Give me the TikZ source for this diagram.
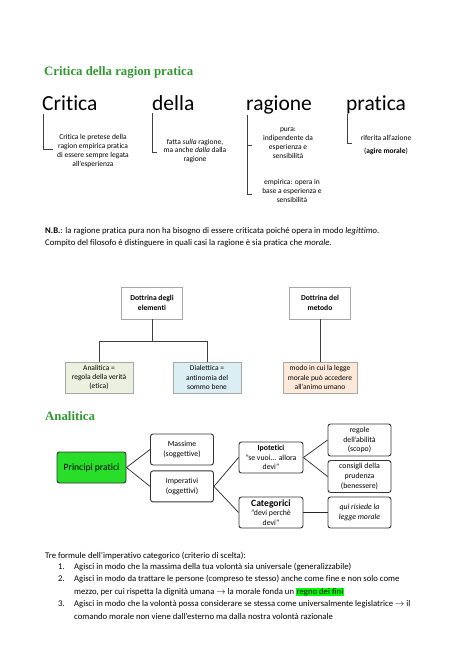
\documentclass[tikz,border=0pt]{standalone}
\usepackage{fontspec}
\setmainfont{Carlito}[Ligatures={NoCommon,NoRare}]
\newfontfamily\headfont{Liberation Serif}
\usepackage{xcolor}
\usetikzlibrary{positioning}
\definecolor{titlegreen}{HTML}{339933}
\definecolor{pratgreen}{HTML}{28DE28}
\definecolor{hlgreen}{HTML}{00FF00}
\definecolor{lightana}{HTML}{EBF1DE}
\definecolor{lightdia}{HTML}{DBEEF3}
\definecolor{lightmet}{HTML}{FDE9D9}
\definecolor{boxgray}{HTML}{A6A6A6}
\definecolor{linegray}{HTML}{404040}
\setlength{\fboxsep}{0.6pt}

\begin{document}
\begin{tikzpicture}[x=1pt, y=-1pt,
  heading/.style={anchor=base west, inner sep=0, text=titlegreen,
                  font=\headfont\bfseries\fontsize{12.8}{14}\selectfont},
  bigword/.style={anchor=base west, inner sep=0, font=\fontsize{21.5}{24}\selectfont},
  note/.style={align=center, inner sep=0, font=\fontsize{7.5}{8.9}\selectfont},
  bracket/.style={draw=linegray, line width=0.9pt},
  doc/.style={draw=boxgray, fill=white, minimum width=61pt, minimum height=32pt,
              align=center, inner sep=1pt, font=\bfseries\fontsize{7.6}{9.4}\selectfont},
  leaf/.style={doc, minimum width=68pt, minimum height=31pt, font=\fontsize{7.5}{9.4}\selectfont},
  tie/.style={draw=linegray, line width=0.8pt},
  concept/.style={draw=black!80, line width=0.9pt, rounded corners=2.5pt, fill=white,
                  minimum width=63pt, minimum height=31pt, align=center, inner sep=1pt,
                  font=\fontsize{7.8}{9.7}\selectfont},
  link/.style={draw=black!85, line width=0.7pt},
  body/.style={anchor=north west, inner sep=0, align=left, font=\fontsize{8.7}{12.6}\selectfont},
  num/.style={anchor=north east, inner sep=0, font=\fontsize{8.7}{12.6}\selectfont}
]
\useasboundingbox[fill=white] (0,0) rectangle (474,670);

% titolo
\node[heading] (titolo) at (44,75) {Critica della ragion pratica};

% le quattro parole
\node[bigword] (w1) at (42,110) {Critica};
\node[bigword] (w2) at (152,110) {della};
\node[bigword] (w3) at (246,110) {ragione};
\node[bigword] (w4) at (346,110) {pratica};

\node[note] (t1) at (93,151) {Critica le pretese della\\ragion empirica pratica\\di essere sempre legata\\all'esperienza};
\node[note] (t2) at (195,151) {fatta \textit{sulla} ragione,\\ma anche \textit{dalla} dalla\\ragione};
\node[note] (t3a) at (288,143.5) {pura:\\indipendente da\\esperienza e\\sensibilità};
\node[note] (t3b) at (292,191) {empirica: opera in\\base a esperienza e\\sensibilità};
\node[note] (t4) at (386,145) {riferita all'azione\\[3.5pt](\textbf{agire morale})};

\coordinate (b1) at (43,114);   \coordinate (b1e) at (53,149);
\coordinate (b2) at (152,113);  \coordinate (b2e) at (157,152);
\coordinate (b3) at (247,115);  \coordinate (b3e) at (252,194);
\coordinate (b3m) at (252,145);
\coordinate (b4) at (347,114);  \coordinate (b4e) at (352,143);
\draw[bracket] (b1) |- (b1e);
\draw[bracket] (b2) |- (b2e);
\draw[bracket] (b3) |- (b3e);
\draw[bracket] (b3 |- b3m) -- (b3m);
\draw[bracket] (b4) |- (b4e);

% nota
\node[body] (nb1) at (45,224) {\strut\textbf{N.B.}: la ragione pratica pura non ha bisogno di essere criticata poiché opera in modo \textit{legittimo}.\\
  Compito del filosofo è distinguere in quali casi la ragione è sia pratica che \textit{morale}.};

% dottrine
\node[doc] (de) at (152,303) {Dottrina degli\\elementi};
\node[doc] (dm) at (320,303) {Dottrina del\\metodo};
\node[leaf, fill=lightana] (ana) at (99,377.5) {Analitica =\\regola della verità\\(etica)};
\node[leaf, fill=lightdia] (dia) at (207,377.5) {Dialettica =\\antinomia del\\sommo bene};
\node[leaf, fill=lightmet, minimum width=74pt] (met) at (320,377.5) {modo in cui la legge\\morale può accedere\\all'animo umano};

\coordinate (split) at ([yshift=-22pt]de.south);
\draw[tie] (de.south) -- (split) -| (ana.north);
\draw[tie] (split) -| (dia.north);
\draw[tie] (dm.south) -- (met.north);

% analitica
\node[heading] (anahead) at (45,420) {Analitica};

\node[concept, fill=pratgreen, minimum width=69pt, font=\fontsize{9.6}{11}\selectfont] (pp) at (91.5,467.5) {Principi pratici};
\node[concept] (mas) at (182,449.5) {Massime\\(soggettive)};
\node[concept, below=5pt of mas] (imp) {Imperativi\\(oggettivi)};
\node[concept, minimum width=64pt] (ipo) at (271,457.5) {\textbf{Ipotetici}\\"se vuoi... allora\\devi"};
\node[concept, minimum width=64pt] (cat) at (271,512.5) {{\bfseries\fontsize{9.6}{11}\selectfont Categorici}\\"devi perchè\\devi"};
\node[concept, minimum height=32pt] (reg) at (359.5,440) {regole\\dell'abilità\\(scopo)};
\node[concept, minimum height=32pt] (con) at (359.5,476.5) {consigli della\\prudenza\\(benessere)};
\node[concept] (qui) at (359.5,512.5) {\textit{qui risiede la}\\\textit{legge morale}};

\draw[link] (pp.east) -- (mas.west);
\draw[link] (pp.east) -- (imp.west);
\draw[link] (imp.east) -- (ipo.west);
\draw[link] (imp.east) -- (cat.west);
\draw[link] (ipo.east) -- (reg.west);
\draw[link] (ipo.east) -- (con.west);
\draw[link] (cat.east) -- (qui.west);

% tre formule
\node[body] (tre) at (45,549) {\strut Tre formule dell’imperativo categorico (criterio di scelta):};
\node[num] (n1) at (65,560) {\strut 1.};
\node[body] (f1) at (74,560) {\strut Agisci in modo che la massima della tua volontà sia universale (generalizzabile)};
\node[num] (n2) at (65,572.6) {\strut 2.};
\node[body] (f2) at (74,572.6) {\strut Agisci in modo da trattare le persone (compreso te stesso) anche come fine e non solo come\\
  mezzo, per cui rispetta la dignità umana $\rightarrow$ la morale fonda un \colorbox{hlgreen}{regno dei fini}};
\node[num] (n3) at (65,597.8) {\strut 3.};
\node[body] (f3) at (74,597.8) {\strut Agisci in modo che la volontà possa considerare se stessa come universalmente legislatrice $\rightarrow$ il\\
  comando morale non viene dall’esterno ma dalla nostra volontà razionale};
\end{tikzpicture}
\end{document}
